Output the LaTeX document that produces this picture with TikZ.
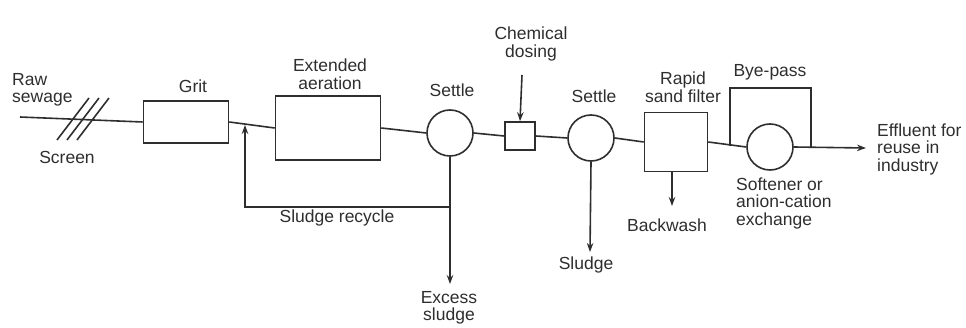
\documentclass[tikz,border=0pt]{standalone}
\usepackage{fontspec}
\setmainfont{Liberation Sans}
\usetikzlibrary{arrows.meta,calc}
\begin{document}
\begin{tikzpicture}[x=1pt,y=-1pt,
  every node/.style={font=\fontsize{17.5}{17.5}\selectfont},
  ln/.style={line width=1.6pt,draw=black!82},
  arr/.style={ln,-{Stealth[length=9pt,width=6.5pt]}},
  unitbox/.style={ln,rectangle,inner sep=0pt},
  tank/.style={ln,circle,inner sep=0pt,minimum size=46pt},
  lbl/.style={align=center,inner sep=0pt,text=black!82},
  lbll/.style={align=left,inner sep=0pt,text=black!82}]
\useasboundingbox (0,0) rectangle (966,328);
% process units
\node[unitbox,minimum width=85pt,minimum height=42pt] (grit) at (186,122) {};
\node[unitbox,minimum width=105pt,minimum height=64pt] (aer) at (328,128) {};
\node[tank] (s1) at (450,133) {};
\node[unitbox,minimum width=30pt,minimum height=28pt] (chem) at (520,136) {};
\node[tank] (s2) at (591,138) {};
\node[unitbox,minimum width=63pt,minimum height=59pt] (filt) at (676,142) {};
\node[tank] (soft) at (770,147) {};
% coordinates
\coordinate (raw) at (20,117);
\coordinate (bpL) at (730,146);
\coordinate (bpR) at (811,147);
\coordinate (eff) at (866,148);
\coordinate (rec) at (245,125);
\coordinate (rj) at (450,207);
\coordinate (ex) at (450,284);
\coordinate (sl) at (590,252);
\coordinate (bw) at (672,206);
\coordinate (cd) at (522,75);
% main flow
\draw[ln] (raw) -- (grit.west);
\draw[ln] (grit.east) -- (aer.west);
\draw[ln] (aer.east) -- (s1.west);
\draw[ln] (s1.east) -- (chem.west);
\draw[ln] (chem.east) -- (s2.west);
\draw[ln] (s2.east) -- (filt.west);
\draw[ln] (filt.east) -- (soft.west);
\draw[arr] (soft.east) -- (eff);
% screen
\draw[ln] (57,140) -- (89,98);
\draw[ln] (67,140) -- (99,98);
\draw[ln] (77,140) -- (109,98);
% sludge lines
\draw[ln] (s1.south) -- (rj);
\draw[arr] (rj) -- (ex);
\draw[arr] (rj) -- (rec |- rj) -- (rec);
\draw[arr] (cd) -- (chem.north);
\draw[arr] (s2.south) -- (sl);
\draw[arr] (bw |- filt.south) -- (bw);
% bye-pass
\draw[ln] (bpL) -- (730,88) -- (811,88) -- (bpR);
% labels
\node[lbll,anchor=west] (lraw) at (12,90) {Raw\\sewage};
\node[lbl] (lscreen) at (67,157) {Screen};
\node[lbl] (lgrit) at (193,86) {Grit};
\node[lbl] (laer) at (330,74) {Extended\\aeration};
\node[lbl] (ls1) at (452,90) {Settle};
\node[lbl] (lrec) at (337,218) {Sludge recycle};
\node[lbl] (lex) at (449,308) {Excess\\sludge};
\node[lbl] (lcd) at (531,44) {Chemical\\dosing};
\node[lbl] (ls2) at (594,96) {Settle};
\node[lbl] (lsl) at (586,265) {Sludge};
\node[lbl] (lfilt) at (683,87) {Rapid\\sand filter};
\node[lbl] (lbw) at (667,225) {Backwash};
\node[lbl] (lbp) at (770,72) {Bye-pass};
\node[lbll,anchor=west] (lsoft) at (736,203) {Softener or\\anion-cation\\exchange};
\node[lbll,anchor=west] (leff) at (877,149) {Effluent for\\reuse in\\industry};
\end{tikzpicture}
\end{document}
